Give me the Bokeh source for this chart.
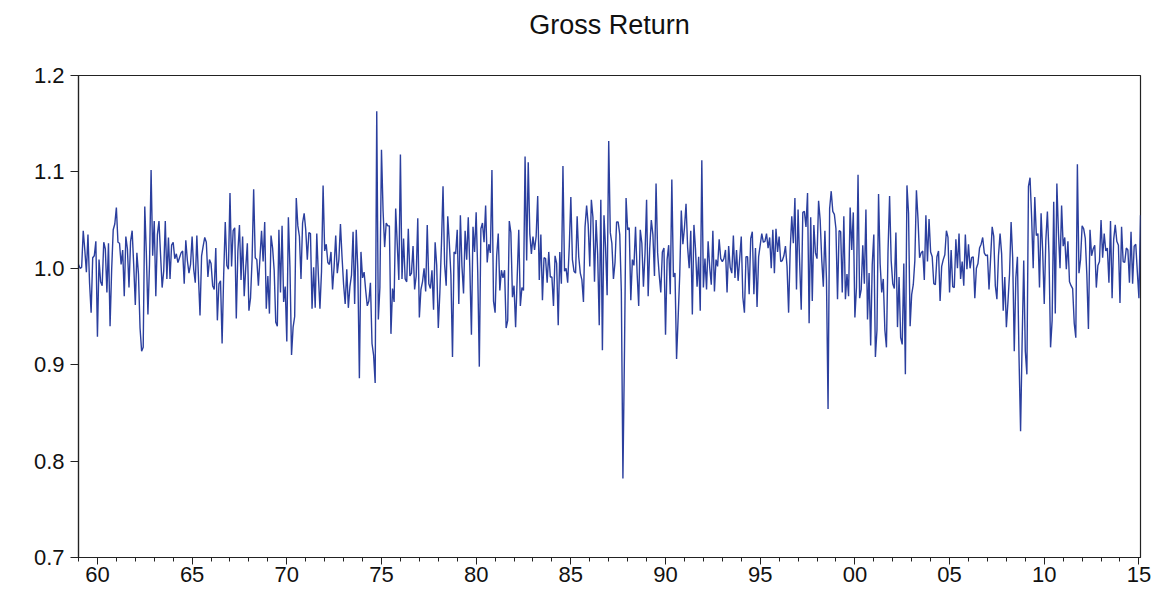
from bokeh.plotting import figure
from bokeh.models import FixedTicker, Range1d, ColumnDataSource, Title
from bokeh.embed import file_html
from bokeh.resources import INLINE

# Monthly returns in percent, Jan 1959 .. Feb 2015
ret_1959_1969 = [
    0.4, -0.0, 0.1, 3.9, 1.9, -0.4, 3.5, -1.5, -4.6, 1.1, 1.3, 2.8,
    -7.1, 0.9, -1.4, -1.8, 2.7, 2.0, -2.5, 2.6, -6.0, -0.2, 4.0, 4.6,
    6.3, 2.7, 2.6, 0.4, 1.9, -2.9, 3.3, 2.0, -2.0, 2.8, 3.9, 0.3,
    -3.8, 1.6, -0.6, -6.2, -8.6, -8.2, 6.4, 1.5, -4.8, 0.4, 10.2, 1.3,
    4.9, -2.9, 3.5, 4.9, 1.4, -2.0, -0.3, 4.9, -1.1, 3.2, -1.1, 2.4,
    2.7, 1.0, 1.5, 0.6, 1.1, 1.6, 1.8, -1.6, 2.9, 0.8, -0.5, 0.4,
    3.3, -0.1, -1.5, 3.4, -0.8, -4.9, 1.3, 2.3, 3.2, 2.7, -0.9, 0.9,
    0.5, -1.8, -2.2, 2.1, -5.4, -1.6, -1.3, -7.8, -0.7, 4.8, 0.3, -0.1,
    7.8, 0.2, 3.9, 4.2, -5.2, 1.8, 4.5, -1.2, 3.3, -2.9, 0.1, 2.6,
    -4.4, -3.1, 0.9, 8.2, 1.1, 0.9, -1.8, 1.1, 3.9, 0.7, 4.8, -4.2,
    -0.8, -4.7, 3.4, 2.1, -0.2, -5.6, -6.0, 4.0, -2.5, 4.4, -3.5, -1.9,
]
ret_1970s = [
    -7.6, 5.3, 0.1, -9.0, -6.1, -5.0, 7.3, 4.4, 3.3, -1.1, 4.7, 5.7,
    4.0, 0.9, 3.7, 3.6, -4.2, 0.1, -4.1, 3.6, -0.7, -4.2, -0.3, 8.6,
    1.8, 2.5, 0.6, 0.4, 1.7, -2.2, 0.2, 3.4, -0.5, 0.9, 4.6, 1.2,
    -1.7, -3.7, -0.1, -4.1, -1.9, -0.7, 3.8, -3.7, 4.0, -0.1, -11.4, 1.7,
    -1.0, -0.4, -2.3, -3.9, -3.4, -1.5, -7.8, -9.0, -11.9, 16.3, -5.3, -2.0,
    12.3, 6.0, 2.2, 4.7, 4.4, 4.4, -6.8, -2.1, -3.5, 6.2, 2.5, -1.2,
    11.8, -1.1, 3.1, -1.1, -1.4, 4.1, -0.8, -0.5, 2.3, -2.2, -0.8, 5.2,
    -5.1, -2.2, -1.4, 0.0, -2.4, 4.5, -1.6, -2.1, -0.2, -4.3, 2.7, 0.3,
    -6.2, -2.5, 2.5, 8.5, 0.4, -1.8, 5.4, 2.6, -0.7, -9.2, 1.7, 1.5,
    4.0, -3.7, 5.5, 0.2, -2.6, 3.9, 0.9, 5.3, 0.0, -6.9, 4.3, 1.7,
]
ret_1980s = [
    5.8, -0.4, -10.2, 4.1, 4.7, 2.7, 6.5, 0.6, 2.5, 1.6, 10.2, -3.4,
    -4.6, 1.3, 3.6, -2.3, -0.2, -1.0, -0.2, -6.2, -5.4, 4.9, 3.7, -3.0,
    -1.8, -6.1, -1.0, 4.0, -3.9, -2.0, -2.3, 11.6, 0.8, 11.0, 3.6, 1.5,
    3.3, 1.9, 3.3, 7.5, -1.2, 3.5, -3.3, 1.1, 1.0, -1.5, 1.7, -0.9,
    -0.9, -3.9, 1.3, 0.5, -5.9, 1.7, -1.6, 10.6, -0.3, 0.0, -1.5, 2.2,
    7.4, 0.9, -0.3, -0.5, 5.4, 1.2, -0.5, -1.2, -3.5, 4.3, 6.5, 4.5,
    0.2, 7.1, 5.3, -1.4, 5.0, 1.4, -5.9, 7.1, -8.5, 5.5, 2.1, -2.8,
    13.2, 3.7, 2.6, -1.1, 0.6, 4.8, 4.8, 3.5, -2.4, -21.8, -8.5, 7.3,
    4.0, 4.2, -3.3, 0.9, 0.3, 4.3, -0.5, -3.9, 4.0, 2.6, -1.9, 1.5,
    7.1, -2.9, 2.1, 5.0, 3.5, -0.8, 8.8, 1.6, -0.7, -2.5, 1.7, 2.1,
]
ret_1990s = [
    -6.9, 0.9, 2.4, -2.7, 9.2, -0.9, -0.5, -9.4, -5.1, -0.7, 6.0, 2.5,
    4.2, 6.7, 2.2, 0.0, 3.9, -4.8, 4.5, 2.0, -1.9, 1.2, -4.4, 11.2,
    -2.0, 1.0, -2.2, 2.8, 0.1, -1.7, 3.9, -2.4, 0.9, 0.2, 3.0, 1.0,
    0.7, 1.0, 1.9, -2.5, 2.3, 0.1, -0.5, 3.4, -1.0, 1.9, -1.3, 1.0,
    3.3, -3.0, -4.6, 1.2, 1.2, -2.7, 3.1, 3.8, -2.7, 2.1, -4.0, 1.2,
    2.4, 3.6, 2.7, 2.8, 3.6, 2.1, 3.2, -0.0, 4.0, -0.5, 4.1, 1.7,
    3.3, 0.7, 0.8, 1.3, 2.3, 0.2, -4.6, 1.9, 5.4, 2.6, 7.3, -2.2,
    6.1, 0.6, -4.3, 5.8, 5.9, 4.3, 7.8, -5.7, 5.3, -3.4, 4.5, 1.6,
    1.0, 7.0, 5.0, 0.9, -1.9, 3.9, -1.2, -14.6, 6.2, 8.0, 5.9, 5.6,
    4.1, -3.2, 3.9, 3.8, -2.5, 5.4, -3.2, -0.6, -2.9, 6.3, 1.9, 5.8,
]
ret_2000s = [
    -5.1, -2.0, 9.7, -3.1, -2.2, 2.4, -1.6, 6.1, -5.3, -0.5, -8.0, 0.4,
    3.5, -9.2, -6.4, 7.7, 0.5, -2.5, -1.1, -6.4, -8.2, 1.8, 7.5, 0.8,
    -1.6, -2.1, 3.7, -6.1, -0.9, -7.2, -7.9, 0.5, -11.0, 8.6, 5.7, -6.0,
    -2.7, -1.7, 0.8, 8.1, 5.1, 1.1, 1.6, 1.8, -1.2, 5.5, 0.7, 5.1,
    1.7, 1.2, -1.6, -1.7, 1.2, 1.8, -3.4, 0.2, 0.9, 1.4, 3.9, 3.2,
    -2.5, 1.9, -1.9, -2.0, 3.0, -0.0, 3.6, -1.1, 0.7, -1.8, 3.5, -0.1,
    2.5, 0.0, 1.1, 1.2, -3.1, 0.0, 0.5, 2.1, 2.5, 3.2, 1.6, 1.3,
    1.4, -2.2, 1.0, 4.3, 3.3, -1.8, -3.2, 1.3, 3.6, 1.5, -4.4, -0.9,
    -6.1, -3.5, -0.6, 4.8, 1.1, -8.6, -1.0, 1.2, -9.1, -16.9, -7.5, 0.8,
    -8.6, -11.0, 8.5, 9.4, 5.3, 0.0, 7.4, 3.4, 3.6, -2.0, 5.7, 1.8,
]
ret_2010_2015 = [
    -3.7, 2.9, 5.9, 1.5, -8.2, -5.4, 6.9, -4.7, 8.8, 3.7, -0.0, 6.5,
    2.3, 3.2, -0.1, 2.8, -1.4, -1.8, -2.1, -5.7, -7.2, 10.8, -0.5, 0.9,
    4.4, 4.1, 3.1, -0.7, -6.3, 4.0, 1.3, 2.0, 2.4, -2.0, 0.3, 0.7,
    5.0, 1.1, 3.6, 1.8, 2.1, -1.5, 4.9, -3.1, 3.0, 4.5, 2.8, 2.4,
    -3.6, 4.3, 0.7, 0.6, 2.1, 1.9, -1.5, 3.8, -1.6, 2.3, 2.5, -0.4,
    -3.1, 5.5,
]

start_year = 1959
year_ticks = [1960, 1965, 1970, 1975, 1980, 1985, 1990, 1995, 2000, 2005, 2010, 2015]
year_labels = ["60", "65", "70", "75", "80", "85", "90", "95", "00", "05", "10", "15"]
y_ticks = [0.7, 0.8, 0.9, 1.0, 1.1, 1.2]
y_labels = ["0.7", "0.8", "0.9", "1.0", "1.1", "1.2"]
title_text = "Gross Return"

pct = ret_1959_1969 + ret_1970s + ret_1980s + ret_1990s + ret_2000s + ret_2010_2015
gross = [1.0 + v / 100.0 for v in pct]
t = [start_year + i / 12.0 for i in range(len(gross))]
src = ColumnDataSource(dict(t=t, gross=gross))

FONT = "Liberation Sans"

p = figure(width=1154, height=586, output_backend="svg", toolbar_location=None,
           title=None,
           x_range=Range1d(t[0], t[-1]), y_range=Range1d(0.7, 1.2),
           min_border_left=78, min_border_right=14, min_border_top=75, min_border_bottom=29,
           background_fill_color="white", border_fill_color="white")

# blank spacer panel next to the frame, then the real title above it
p.add_layout(Title(text=" ", text_font=FONT, text_font_size="10px", standoff=16), "above")
p.add_layout(Title(text=title_text, align="center", vertical_align="top",
                   text_font=FONT, text_font_size="27px", text_font_style="normal",
                   text_color="#111111", standoff=10), "above")

p.line("t", "gross", source=src, line_color="#2b3f9e", line_width=1.4)

p.grid.visible = False
p.outline_line_color = "#222222"
p.outline_line_width = 1.2

xa = p.below[0]
xa.ticker = FixedTicker(ticks=year_ticks, minor_ticks=list(range(1959, 2016)))
xa.major_label_overrides = {k: v for k, v in zip(year_ticks, year_labels)}
ya = p.left[0]
ya.ticker = FixedTicker(ticks=y_ticks, minor_ticks=[])
ya.major_label_overrides = {k: v for k, v in zip(y_ticks, y_labels)}

for ax in (xa, ya):
    ax.axis_line_color = "#222222"
    ax.axis_line_width = 1.2
    ax.major_tick_line_color = "#222222"
    ax.minor_tick_line_color = "#222222"
    ax.major_tick_in = 0
    ax.minor_tick_in = 0
    ax.major_label_text_font = FONT
    ax.major_label_text_font_size = "22px"
    ax.major_label_text_color = "#111111"

xa.major_tick_out = 7
xa.minor_tick_out = 4
xa.major_label_standoff = 2
ya.major_tick_out = 8
ya.major_label_standoff = 6

open("out.html", "w").write(file_html(p, INLINE))
